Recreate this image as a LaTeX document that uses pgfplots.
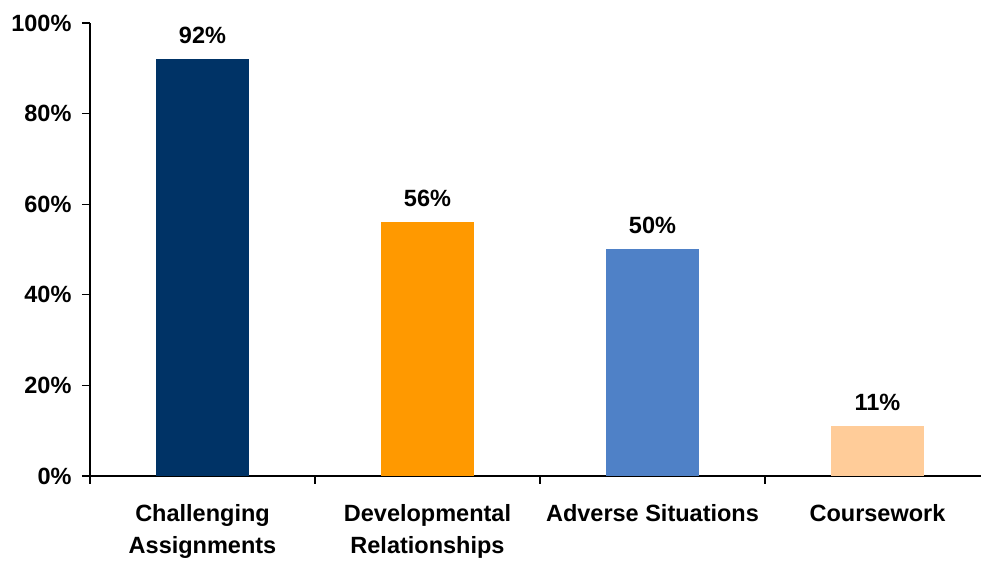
\documentclass[border=0pt]{standalone}
\usepackage{fontspec}
\setmainfont{Liberation Sans}
\usepackage{pgfplots}
\pgfplotsset{compat=1.18}
\definecolor{cnavy}{RGB}{0,51,102}
\definecolor{corange}{RGB}{255,153,0}
\definecolor{cblue}{RGB}{79,129,199}
\definecolor{cpeach}{RGB}{255,204,153}
\begin{document}
\begin{tikzpicture}[x=1pt,y=1pt]
\useasboundingbox (-90,-85) rectangle (891,476);
\begin{axis}[
  at={(0,0)}, anchor=south west,
  scale only axis, width=891pt, height=453pt,
  xmin=-0.5, xmax=3.46, ymin=0, ymax=100,
  axis x line*=bottom, axis y line*=left,
  axis line style={line width=1.3pt, black},
  /pgf/number format/assume math mode=true,
  every tick label/.append style={font=\bfseries\fontsize{23.5}{32}\selectfont},
  xtick={-0.5,0.5,1.5,2.5},
  xticklabels={},
  xtick style={line width=1.3pt, black},
  extra x ticks={0,1,2,3},
  extra x tick labels={{Challenging\\Assignments},{Developmental\\Relationships},{Adverse Situations},{Coursework}},
  extra x tick style={tick style={draw=none}, major tick length=0pt,
     ticklabel style={align=center, anchor=north, yshift=-25pt}},
  ytick={0,20,40,60,80,100},
  yticklabel={\pgfmathprintnumber{\tick}\%},
  ytick style={line width=1.3pt, black},
  tick align=outside, major tick length=8pt,
  yticklabel style={xshift=-7pt},
  bar width=93pt,
  ybar, bar shift=0pt,
  nodes near coords={\pgfmathprintnumber{\pgfplotspointmeta}\%},
  every node near coord/.append style={font=\bfseries\fontsize{23.5}{28}\selectfont, black, yshift=12pt},
  clip=false,
]
\addplot[fill=cnavy, draw=none] coordinates {(0,92)};
\addplot[fill=corange, draw=none] coordinates {(1,56)};
\addplot[fill=cblue, draw=none] coordinates {(2,50)};
\addplot[fill=cpeach, draw=none] coordinates {(3,11)};
\end{axis}
\end{tikzpicture}
\end{document}
